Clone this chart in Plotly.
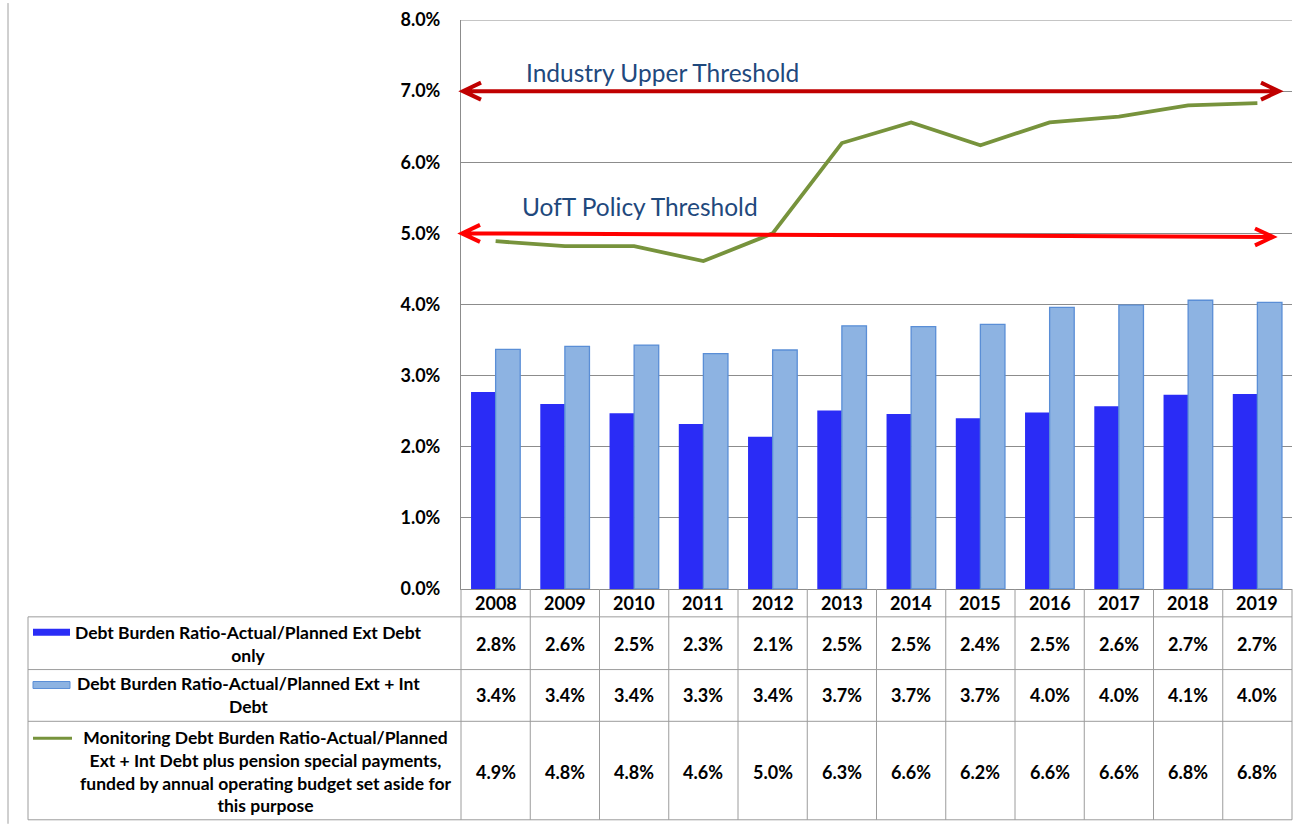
import plotly.graph_objects as go

# ---------------- data ----------------
years = ["2008", "2009", "2010", "2011", "2012", "2013", "2014", "2015", "2016", "2017", "2018", "2019"]
ext_debt = [2.77, 2.60, 2.47, 2.32, 2.14, 2.51, 2.46, 2.40, 2.48, 2.57, 2.73, 2.74]
ext_int_debt = [3.37, 3.41, 3.43, 3.31, 3.36, 3.70, 3.69, 3.72, 3.96, 3.99, 4.06, 4.03]
monitoring = [4.89, 4.82, 4.82, 4.61, 5.00, 6.27, 6.56, 6.24, 6.56, 6.64, 6.80, 6.83]
series_names = [
    "Debt Burden Ratio-Actual/Planned Ext Debt<br>only",
    "Debt Burden Ratio-Actual/Planned Ext + Int<br>Debt",
    "Monitoring Debt Burden Ratio-Actual/Planned<br>Ext + Int Debt plus pension special payments,<br>funded by annual operating budget set aside for<br>this purpose",
]
industry_threshold = 7.0
policy_threshold = (5.0, 4.95)   # start / end (drawn slightly sloped in original)
industry_label = "Industry Upper Threshold"
policy_label = "UofT Policy Threshold"
y_ticks = [0, 1, 2, 3, 4, 5, 6, 7, 8]

# ---------------- styling ----------------
FONT = "Lato"
DARK_BLUE = "#2A2CF6"
LIGHT_BLUE = "#8DB3E2"
LIGHT_EDGE = "#5A8ED6"
GREEN = "#77933C"
GRID = "#8C8C8C"
BORDER = "#9C9C9C"
LABEL_BLUE = "#1F497D"

W, H = 1300, 825
PL, PR, PT, PB = 461, 1292, 17, 589


def px(x):
    return (x - PL) / (PR - PL)


def py(y):
    return (PB - y) / (PB - PT)


fig = go.Figure()
fig.add_trace(go.Bar(x=years, y=ext_debt, name=series_names[0], marker=dict(color=DARK_BLUE, line=dict(width=0))))
fig.add_trace(go.Bar(x=years, y=ext_int_debt, name=series_names[1],
                     marker=dict(color=LIGHT_BLUE, line=dict(color=LIGHT_EDGE, width=1.3))))
fig.add_trace(go.Scatter(x=years, y=monitoring, name=series_names[2], mode="lines",
                         line=dict(color=GREEN, width=3.8)))

shapes = []
# table lines
for yy in [617, 670, 722, 821]:
    shapes.append(dict(type="line", xref="paper", yref="paper", x0=px(28), x1=px(1292), y0=py(yy), y1=py(yy),
                       line=dict(color=BORDER, width=1)))
shapes.append(dict(type="line", xref="paper", yref="paper", x0=px(28), x1=px(28), y0=py(617), y1=py(821),
                   line=dict(color=BORDER, width=1)))
shapes.append(dict(type="line", xref="paper", yref="paper", x0=px(461), x1=px(461), y0=py(589), y1=py(821),
                   line=dict(color=BORDER, width=1)))
shapes.append(dict(type="line", xref="paper", yref="paper", x0=px(1292), x1=px(1292), y0=py(589), y1=py(821),
                   line=dict(color=BORDER, width=1)))
for i in range(len(years) - 1):
    shapes.append(dict(type="line", xref="x", yref="paper", x0=i + 0.5, x1=i + 0.5, y0=py(589), y1=py(821),
                       line=dict(color=BORDER, width=1)))
# top gridline at 8%
shapes.append(dict(type="line", xref="paper", yref="y", x0=0, x1=1, y0=8, y1=8, line=dict(color=GRID, width=1)))
# chart area left border
shapes.append(dict(type="line", xref="paper", yref="paper", x0=px(8), x1=px(8), y0=py(0), y1=py(825),
                   line=dict(color="#A0A0A0", width=1)))

# legend keys in the table
shapes.append(dict(type="rect", xref="paper", yref="paper", x0=px(33), x1=px(70), y0=py(629), y1=py(636),
                   fillcolor=DARK_BLUE, line=dict(width=0)))
shapes.append(dict(type="rect", xref="paper", yref="paper", x0=px(33), x1=px(70), y0=py(682), y1=py(689),
                   fillcolor=LIGHT_BLUE, line=dict(color=LIGHT_EDGE, width=1)))
shapes.append(dict(type="line", xref="paper", yref="paper", x0=px(33), x1=px(72), y0=py(739), y1=py(739),
                   line=dict(color=GREEN, width=3)))

# threshold arrows
ARM_X = 18 / (PR - PL)
ARM_Y = 8.5 / ((PB - PT) / 8)


def double_arrow(x_left, x_right, y_left, y_right, color):
    xl, xr = px(x_left), px(x_right)
    path = (f"M {xl:.5f},{y_left:.4f} L {xr:.5f},{y_right:.4f} "
            f"M {xl + ARM_X:.5f},{y_left + ARM_Y:.4f} L {xl:.5f},{y_left:.4f} L {xl + ARM_X:.5f},{y_left - ARM_Y:.4f} "
            f"M {xr - ARM_X:.5f},{y_right + ARM_Y:.4f} L {xr:.5f},{y_right:.4f} L {xr - ARM_X:.5f},{y_right - ARM_Y:.4f}")
    return dict(type="path", xref="paper", yref="y", path=path, line=dict(color=color, width=4))


shapes.append(double_arrow(463, 1279, industry_threshold, industry_threshold, "#C00000"))
shapes.append(double_arrow(462, 1273, policy_threshold[0], policy_threshold[1], "#FF0000"))

annotations = []


def note(text, xref, x, ypix, font, align="center"):
    annotations.append(dict(text=text, xref=xref, yref="paper", x=x, y=py(ypix), xanchor="center",
                            yanchor="middle", showarrow=False, align=align, font=font))


label_font = dict(family=FONT, size=24.5, color=LABEL_BLUE)
note(industry_label, "paper", px(662), 70, label_font)
note(policy_label, "paper", px(640), 204, label_font)

cell_font = dict(family=FONT, size=18, color="black", weight=700)
for i, yr in enumerate(years):
    note(yr, "x", i, 603, cell_font)
    for vals, yy in [(ext_debt, 644), (ext_int_debt, 696), (monitoring, 773)]:
        note(f"{vals[i]:.1f}%", "x", i, yy, cell_font)

row_font = dict(family=FONT, size=17.5, color="black", weight=700)
note(series_names[0], "paper", px(248), 644, row_font)
note(series_names[1], "paper", px(248), 696, row_font)
note(series_names[2], "paper", px(265), 772, row_font)

fig.update_layout(
    width=W, height=H,
    margin=dict(l=PL, r=W - PR, t=PT, b=H - PB, pad=0),
    paper_bgcolor="white", plot_bgcolor="white",
    barmode="group", bargap=0.29, bargroupgap=0,
    showlegend=False,
    shapes=shapes, annotations=annotations,
    font=dict(family=FONT),
)
fig.update_xaxes(type="category", range=[-0.5, len(years) - 0.5], showticklabels=False, showgrid=False,
                 showline=True, linecolor=GRID, linewidth=1, zeroline=False)
fig.update_yaxes(range=[0, 8], tickvals=y_ticks, ticktext=[f"{v:.1f}%" for v in y_ticks],
                 showgrid=True, gridcolor=GRID, gridwidth=1, showline=True, linecolor=GRID, linewidth=1,
                 zeroline=False, ticks="", ticklabelstandoff=16,
                 tickfont=dict(family=FONT, size=18, color="black", weight=700))

fig.write_html("out.html", config={"displayModeBar": False},
               post_script="document.body.style.margin='0';")
